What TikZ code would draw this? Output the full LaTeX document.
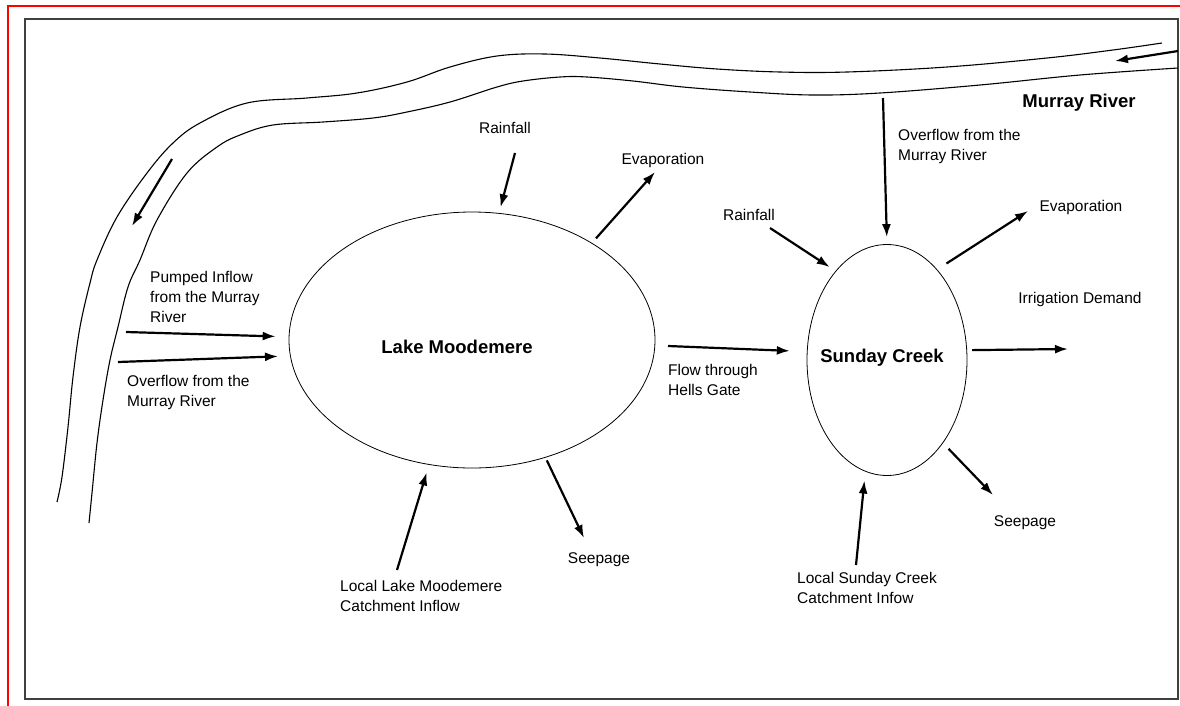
\documentclass[tikz,border=0pt]{standalone}
\usepackage{fontspec}
\setmainfont{Liberation Sans}
\usetikzlibrary{arrows.meta,shapes.geometric}

\tikzset{
  flow/.style={every edge/.style={draw,-{Latex[length=13pt,width=9pt]},line width=2.2pt}},
  water/.style={draw,ellipse,inner sep=0pt,line width=0.8pt},
  title/.style={font=\bfseries\fontsize{18.5}{22}\selectfont},
  lbl/.style={align=left,inner sep=0pt,font=\fontsize{15.5}{20}\selectfont},
  bank/.style={line width=1.1pt},
}

\begin{document}
\begin{tikzpicture}[x=1pt,y=-1pt]
      \useasboundingbox (0,0) rectangle (1180,705);
      \draw[draw=red,line width=2pt] (7.5,706) -- (7.5,5.5) -- (1181,5.5);
      \draw[black!75,line width=1.3pt] (25,19) rectangle (1178,699);

      % river banks
      \draw[bank] plot[smooth,tension=0.6] coordinates {(57,502) (62,477) (68,427) (73,377)
        (80,327) (90,283) (97,260) (117,217) (147,173) (173,143) (200,123) (247,103)
        (307,98) (357,93) (407,82) (450,67) (497,56) (545,54) (600,58) (660,64)
        (717,69) (780,72) (847,72) (947,67) (1047,58) (1113,50) (1162,43)};
      \draw[bank] plot[smooth,tension=0.6] coordinates {(89,523) (92,493) (97,443) (103,400)
        (110,360) (118,327) (128,287) (140,260) (157,220) (187,173) (217,147)
        (240,135) (273,125) (323,122) (373,118) (407,112) (450,102) (497,87)
        (523,81) (560,77) (587,77) (633,81) (683,87) (750,92) (813,95) (880,93)
        (980,85) (1080,75) (1178,68)};

      \node[water,minimum width=366pt,minimum height=256pt] (lake) at (472,340) {};
      \node[title] (lakename)  at (457,347) {Lake Moodemere};
      \node[water,minimum width=160pt,minimum height=231pt] (creek) at (887,360) {};
      \node[title] (creekname) at (882,358) {Sunday Creek};
      \node[title] (murray)    at (1079,103) {Murray River};

      % labels
      \node[lbl]               (rainL)  at (505,128) {Rainfall};
      \node[lbl]               (evapL)  at (663,160) {Evaporation};
      \node[lbl,anchor=west]   (pumpL)  at (150,297) {Pumped Inflow\\from the Murray\\River};
      \node[lbl,anchor=west]   (overL)  at (127,392.5) {Overflow from the\\Murray River};
      \node[lbl,anchor=west]   (hellsL) at (668,380) {Flow through\\Hells Gate};
      \node[lbl]               (seepL)  at (599,560) {Seepage};
      \node[lbl,anchor=west]   (localL) at (340,595.5) {Local Lake Moodemere\\Catchment Inflow};
      \node[lbl]               (rainS)  at (749,215) {Rainfall};
      \node[lbl,anchor=west]   (overS)  at (898,146.5) {Overflow from the\\Murray River};
      \node[lbl]               (evapS)  at (1081,207) {Evaporation};
      \node[lbl]               (irrS)   at (1080,299) {Irrigation Demand};
      \node[lbl]               (seepS)  at (1025,523) {Seepage};
      \node[lbl,anchor=west]   (localS) at (797,588) {Local Sunday Creek\\Catchment Infow};

      % free ends
      \coordinate (riverA) at (1178,51);
      \coordinate (riverB) at (1115,61);
      \coordinate (riverC) at (172,159);
      \coordinate (riverD) at (132,226);
      \coordinate (rainLe)  at (515,153);
      \coordinate (evapLe)  at (655,172);
      \coordinate (pumpLe)  at (126,332);
      \coordinate (overLe)  at (118,362);
      \coordinate (seepLe)  at (584,538);
      \coordinate (localLe) at (397,570);
      \coordinate (hellsLe) at (668,346);
      \coordinate (overSe)  at (883,98);
      \coordinate (rainSe)  at (770,228);
      \coordinate (evapSe)  at (1028,211);
      \coordinate (irrSe)   at (1068,349);
      \coordinate (seepSe)  at (993,495);
      \coordinate (localSe) at (856,565);

      \path[flow] (riverA)  edge                  (riverB)
                  (riverC)  edge                  (riverD)
                  (rainLe)  edge[shorten >=6pt]   (lake.78)
                  (lake.39) edge[shorten <=6pt]   (evapLe)
                  (pumpLe)  edge[shorten >=13pt]  (lake.179)
                  (overLe)  edge[shorten >=12pt]  (lake.185)
                  (lake.-58) edge[shorten <=3pt]  (seepLe)
                  (localLe) edge[shorten >=8pt]   (lake.251)
                  (hellsLe) edge[shorten >=17pt]  (creek.174)
                  (overSe)  edge[shorten >=7pt]   (creek.90)
                  (rainSe)  edge[shorten >=7pt]   (creek.120)
                  (creek.61) edge[shorten <=11pt] (evapSe)
                  (creek.7)  edge[shorten <=5pt]  (irrSe)
                  (creek.-56) edge[shorten <=8pt] (seepSe)
                  (localSe) edge[shorten >=9pt]   (creek.259);
\end{tikzpicture}
\end{document}
